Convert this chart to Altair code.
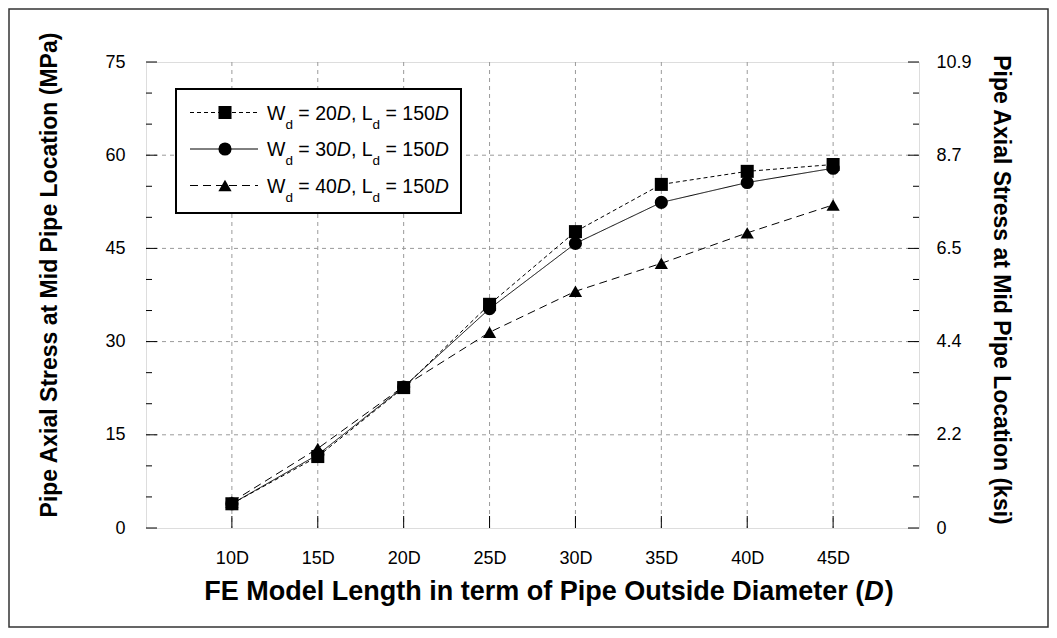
import altair as alt
import pandas as pd

# ---------------- data ----------------
model_length = [10, 15, 20, 25, 30, 35, 40, 45]
series_names = ["Wd = 20D", "Wd = 30D", "Wd = 40D"]
wd_labels = ["20", "30", "40"]
ld_label = "150"
stress_wd20 = [3.9, 11.5, 22.6, 36.0, 47.7, 55.3, 57.4, 58.5]
stress_wd30 = [3.9, 11.8, 22.7, 35.3, 45.8, 52.4, 55.6, 57.9]
stress_wd40 = [4.2, 12.8, 22.8, 31.5, 38.1, 42.6, 47.5, 52.0]
x_tick_values = [10, 15, 20, 25, 30, 35, 40, 45]
y_major = [0, 15, 30, 45, 60, 75]
y_minor = [5, 10, 20, 25, 35, 40, 50, 55, 65, 70]
y_grid = [15, 30, 45, 60]
ksi_labels = ["0", "2.2", "4.4", "6.5", "8.7", "10.9"]
x_title_main = "FE Model Length in term of Pipe Outside Diameter ("
left_title = "Pipe Axial Stress at Mid Pipe Location (MPa)"
right_title = "Pipe Axial Stress at Mid Pipe Location (ksi)"

# ---------------- layout ----------------
W, H = 773, 466
PAD = {"left": 138, "top": 54, "right": 130, "bottom": 100}
FONT = "Liberation Sans"
LBL = 18
YT = 23

df = pd.DataFrame({
    "L": model_length * 3,
    "S": stress_wd20 + stress_wd30 + stress_wd40,
    "series": sum([[s] * len(model_length) for s in series_names], []),
})

xs = alt.Scale(domain=[5, 50], nice=False, zero=False)
ys = alt.Scale(domain=[0, 75], nice=False, zero=False)
dash_scale = alt.Scale(domain=series_names, range=[[4, 3], [1, 0], [8, 5]])
shape_scale = alt.Scale(domain=series_names, range=["square", "circle", "triangle-up"])
size_scale = alt.Scale(domain=series_names, range=[170, 175, 210])

ksi_expr = " : ".join(f"datum.value == {v} ? '{l}'" for v, l in zip(y_major, ksi_labels)) + " : ''"

x_axis = alt.Axis(values=x_tick_values, labelExpr="datum.value + 'D'", ticks=False, domain=False,
                  grid=False, labelFontSize=LBL, labelPadding=21, labelColor="black",
                  labelFont=FONT, title=None)

# grid
grid_y = alt.Chart(pd.DataFrame({"v": y_grid})).mark_rule(
    color="#9a9a9a", strokeWidth=1, strokeDash=[4, 4]
).encode(y=alt.Y("v:Q", scale=ys, axis=None), x=alt.value(0), x2=alt.value(W))
grid_x = alt.Chart(pd.DataFrame({"v": x_tick_values})).mark_rule(
    color="#9a9a9a", strokeWidth=1, strokeDash=[4, 4]
).encode(x=alt.X("v:Q", scale=xs, axis=x_axis), y=alt.value(0), y2=alt.value(H))

# ticks (inward)
tick_left_major = alt.Chart(pd.DataFrame({"v": y_major})).mark_rule(color="black").encode(
    y=alt.Y("v:Q", scale=ys, axis=alt.Axis(
        orient="left", values=y_major, ticks=False, domain=False, grid=False,
        labelFontSize=LBL, labelPadding=21, labelColor="black", labelFont=FONT, title=None)),
    x=alt.value(0), x2=alt.value(11))
tick_left_minor = alt.Chart(pd.DataFrame({"v": y_minor})).mark_rule(color="black").encode(
    y=alt.Y("v:Q", scale=ys, axis=None), x=alt.value(0), x2=alt.value(6))
tick_right_major = alt.Chart(pd.DataFrame({"v": y_major})).mark_rule(color="black").encode(
    y=alt.Y("v:Q", scale=ys, axis=alt.Axis(
        orient="right", values=y_major, labelExpr=ksi_expr, ticks=False, domain=False, grid=False,
        labelFontSize=LBL, labelPadding=17, labelColor="black", labelFont=FONT, title=None)),
    x=alt.value(W - 11), x2=alt.value(W))
tick_right_minor = alt.Chart(pd.DataFrame({"v": y_minor})).mark_rule(color="black").encode(
    y=alt.Y("v:Q", scale=ys, axis=None), x=alt.value(W - 6), x2=alt.value(W))
tick_bottom = alt.Chart(pd.DataFrame({"v": x_tick_values})).mark_rule(color="black").encode(
    x=alt.X("v:Q", scale=xs, axis=x_axis), y=alt.value(H - 12), y2=alt.value(H))

# data
lines = alt.Chart(df).mark_line(color="black", strokeWidth=1).encode(
    x=alt.X("L:Q", scale=xs, axis=x_axis),
    y=alt.Y("S:Q", scale=ys, axis=None),
    strokeDash=alt.StrokeDash("series:N", scale=dash_scale, legend=None),
    detail="series:N",
)
points = alt.Chart(df).mark_point(filled=True, color="black", opacity=1).encode(
    x=alt.X("L:Q", scale=xs, axis=x_axis),
    y=alt.Y("S:Q", scale=ys, axis=None),
    shape=alt.Shape("series:N", scale=shape_scale, legend=None),
    size=alt.Size("series:N", scale=size_scale, legend=None),
)

# ---------------- custom legend ----------------
REG = {"W": 944, "d": 556, " ": 278, "=": 584, "D": 722, ",": 278, "L": 556}
for c in "0123456789":
    REG[c] = 556
F_REG, F_SUB = 19.5, 13.5


def wid(s, f):
    return sum(REG.get(c, 556) for c in s) * f / 1000.0


leg_x0, leg_y0, leg_w, leg_h = 30, 27, 285, 124
row_cy = [leg_y0 + 23.5 + 36.5 * i for i in range(3)]
line_x1, line_x2, mark_x, text_x = leg_x0 + 14, leg_x0 + 82, leg_x0 + 49, leg_x0 + 91

leg_rows = pd.DataFrame({"series": series_names, "cy": row_cy,
                         "x1": [line_x1] * 3, "x2": [line_x2] * 3, "mx": [mark_x] * 3})
pieces = []
for wd, cy in zip(wd_labels, row_cy):
    segs = [("W", "reg"), ("d", "sub"), (" = " + wd, "reg"), ("D", "ital"),
            (", L", "reg"), ("d", "sub"), (" = " + ld_label, "reg"), ("D", "ital")]
    x = text_x
    for t, k in segs:
        f = F_SUB if k == "sub" else F_REG
        lead = len(t) - len(t.lstrip(" "))
        pieces.append({"t": t.lstrip(" "), "k": k, "tx": x + wid(" " * lead, f),
                       "ty": cy + (16 if k == "sub" else 7)})
        x += wid(t, f)
leg_text = pd.DataFrame(pieces)

one = pd.DataFrame({"a": [0]})
leg_box = alt.Chart(one).mark_rect(fill="white", stroke="black", strokeWidth=2).encode(
    x=alt.value(leg_x0), x2=alt.value(leg_x0 + leg_w), y=alt.value(leg_y0), y2=alt.value(leg_y0 + leg_h))
leg_lines = alt.Chart(leg_rows).mark_rule(color="black", strokeWidth=1).encode(
    x=alt.X("x1:Q", scale=None), x2="x2:Q", y=alt.Y("cy:Q", scale=None),
    strokeDash=alt.StrokeDash("series:N", scale=dash_scale, legend=None))
leg_marks = alt.Chart(leg_rows).mark_point(filled=True, color="black", opacity=1).encode(
    x=alt.X("mx:Q", scale=None), y=alt.Y("cy:Q", scale=None),
    shape=alt.Shape("series:N", scale=shape_scale, legend=None),
    size=alt.Size("series:N", scale=size_scale, legend=None))


def leg_txt(kind, **kw):
    return alt.Chart(leg_text).transform_filter(f"datum.k == '{kind}'").mark_text(
        align="left", baseline="alphabetic", color="black", font=FONT, **kw
    ).encode(x=alt.X("tx:Q", scale=None), y=alt.Y("ty:Q", scale=None), text="t:N")


leg_reg = leg_txt("reg", fontSize=F_REG)
leg_ital = leg_txt("ital", fontSize=F_REG, fontStyle="italic")
leg_sub = leg_txt("sub", fontSize=F_SUB)

# ---------------- titles ----------------
BOLD = {' ': 278, '(': 333, ')': 333, 'D': 722, 'E': 667, 'F': 611, 'L': 611, 'M': 833, 'O': 778,
        'P': 667, 'a': 556, 'd': 611, 'e': 556, 'f': 333, 'g': 611, 'h': 611, 'i': 278, 'l': 278,
        'm': 889, 'n': 611, 'o': 611, 'p': 611, 'r': 389, 's': 556, 't': 333, 'u': 611}
XT = 27
w_main = sum(BOLD.get(c, 600) for c in x_title_main) * XT / 1000.0
w_tot = w_main + (722 + 333) * XT / 1000.0
x_center = W / 2 + 16
x_left = x_center - w_tot / 2
x_mid = x_left + w_main
title_y = H + 64
xt_main = alt.Chart(one).mark_text(
    text=x_title_main, align="left", baseline="middle", fontSize=XT, fontWeight="bold",
    font=FONT, color="black").encode(x=alt.value(x_left), y=alt.value(title_y))
xt_d = alt.Chart(one).mark_text(
    text="D", align="left", baseline="middle", fontSize=XT, fontWeight="bold", fontStyle="italic",
    font=FONT, color="black").encode(x=alt.value(x_mid), y=alt.value(title_y))
xt_close = alt.Chart(one).mark_text(
    text=")", align="left", baseline="middle", fontSize=XT, fontWeight="bold",
    font=FONT, color="black").encode(x=alt.value(x_mid + 722 * XT / 1000.0 + 1), y=alt.value(title_y))

yt_left = alt.Chart(one).mark_text(
    text=left_title, align="center", baseline="middle", angle=270, fontSize=YT, fontWeight="bold",
    font=FONT, color="black").encode(x=alt.value(-96), y=alt.value(H / 2 - 20))
yt_right = alt.Chart(one).mark_text(
    text=right_title, align="center", baseline="middle", angle=90, fontSize=YT, fontWeight="bold",
    font=FONT, color="black").encode(x=alt.value(W + 82), y=alt.value(H / 2 - 5))

# outer frame
frame = alt.Chart(one).mark_rect(fillOpacity=0, stroke="#333333", strokeWidth=1.5).encode(
    x=alt.value(-PAD["left"] + 1), x2=alt.value(W + PAD["right"] - 1),
    y=alt.value(-PAD["top"] + 1), y2=alt.value(H + PAD["bottom"] - 1))

chart = alt.layer(
    grid_y, grid_x, tick_left_major, tick_left_minor, tick_right_major, tick_right_minor,
    tick_bottom, lines, points, leg_box, leg_lines, leg_marks, leg_reg, leg_ital, leg_sub,
    xt_main, xt_d, xt_close, yt_left, yt_right, frame,
).resolve_scale(y="independent").properties(
    width=W, height=H,
    autosize=alt.AutoSizeParams(type="none"),
    padding=PAD,
    background="white",
).configure_view(stroke="black", strokeWidth=1.5).configure(font=FONT)

chart.save("out.html", embed_options={"renderer": "svg", "actions": False})
